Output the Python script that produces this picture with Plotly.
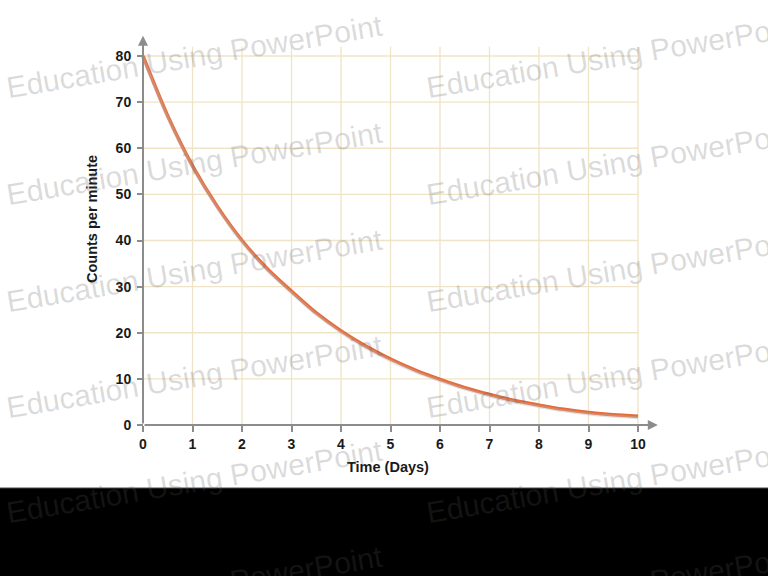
import plotly.graph_objects as go

# ---- data ----
time_days = [0, 0.5, 1, 1.5, 2, 2.5, 3, 3.5, 4, 4.5, 5, 5.5, 6, 6.5, 7, 7.5, 8, 8.5, 9, 9.5, 10]
counts = [80, 67, 56.2, 47.4, 40, 34.0, 29.0, 24.3, 20.4, 17.1, 14.3, 11.9, 9.9, 8.1, 6.6, 5.3, 4.3, 3.4, 2.7, 2.2, 1.9]
x_ticks = [0, 1, 2, 3, 4, 5, 6, 7, 8, 9, 10]
y_ticks = [0, 10, 20, 30, 40, 50, 60, 70, 80]
x_title = "Time (Days)"
y_title = "Counts per minute"
watermark = "Education Using PowerPoint"

# ---- layout geometry (pixels) ----
W, H = 768, 576
ML, MR, MT, MB = 128, 100, 30, 141
PW, PH = W - ML - MR, H - MT - MB
X0_PX, X10_PX = 143, 638
Y0_PX, Y80_PX = 425, 56
sx = (X10_PX - X0_PX) / 10.0
sy = (Y0_PX - Y80_PX) / 80.0
x_range = [-(X0_PX - ML) / sx, (W - MR - X0_PX) / sx]
y_range = [-(H - MB - Y0_PX) / sy, (Y0_PX - MT) / sy]
shadow_shift = 1.5 / sy


def pxx(px):
    return (px - ML) / PW


def pxy(py):
    return (H - MB - py) / PH


AX_COLOR = "#8c8c8c"
GRID_COLOR = "#efe4c6"
CURVE_COLOR = "#e76a38"
FONT = "Liberation Sans, Arial, sans-serif"

fig = go.Figure()

# soft shadow under the curve (same data, drawn on a slightly shifted overlay axis)
fig.add_trace(go.Scatter(
    x=time_days, y=counts, mode="lines", yaxis="y2",
    line=dict(color="rgba(185,185,185,0.4)", width=3, shape="spline", smoothing=0.8),
    hoverinfo="skip", showlegend=False))
fig.add_trace(go.Scatter(
    x=time_days, y=counts, mode="lines",
    line=dict(color=CURVE_COLOR, width=3.5, shape="spline", smoothing=0.8),
    showlegend=False))

shapes = []
# grid
for yv in y_ticks[1:]:
    shapes.append(dict(type="line", xref="x", yref="y", x0=x_ticks[0], x1=x_ticks[-1], y0=yv, y1=yv,
                       line=dict(color=GRID_COLOR, width=1.3), layer="below"))
for xv in x_ticks[1:]:
    shapes.append(dict(type="line", xref="x", yref="y", x0=xv, x1=xv, y0=0, y1=y_ticks[-1] + 2,
                       line=dict(color=GRID_COLOR, width=1.3), layer="below"))
# black band at bottom
shapes.append(dict(type="rect", xref="paper", yref="paper",
                   x0=pxx(-2), x1=pxx(W + 2), y0=pxy(488), y1=pxy(H + 2),
                   fillcolor="black", line=dict(color="#4a4a4a", width=1), layer="above"))

annotations = []
# axis lines with arrows
annotations.append(dict(x=0, y=y_ticks[-1] + 4.4, ax=0, ay=0, xref="x", yref="y", axref="x", ayref="y",
                        text="", showarrow=True, arrowhead=2, arrowsize=1, arrowwidth=2,
                        arrowcolor=AX_COLOR, standoff=0, startstandoff=0))
annotations.append(dict(x=x_ticks[-1] + 0.4, y=0, ax=0, ay=0, xref="x", yref="y", axref="x", ayref="y",
                        text="", showarrow=True, arrowhead=2, arrowsize=1, arrowwidth=2,
                        arrowcolor=AX_COLOR, standoff=0, startstandoff=0))
# axis titles
annotations.append(dict(x=pxx(388), y=pxy(467), xref="paper", yref="paper", text=x_title,
                        showarrow=False, xanchor="center", yanchor="middle",
                        font=dict(family=FONT, size=14.5, color="#1a1a1a", weight="bold")))
annotations.append(dict(x=pxx(92), y=pxy(219), xref="paper", yref="paper", text=y_title,
                        textangle=-90, showarrow=False, xanchor="center", yanchor="middle",
                        font=dict(family=FONT, size=14.5, color="#1a1a1a", weight="bold")))
# watermarks
for cx in [194, 614]:
    for cy in [56, 163, 270, 376, 481, 587]:
        annotations.append(dict(x=pxx(cx), y=pxy(cy), xref="paper", yref="paper", text=watermark,
                                textangle=-9.5, showarrow=False, xanchor="center", yanchor="middle",
                                font=dict(family=FONT, size=30, color="rgba(90,90,90,0.22)")))

tickfont = dict(family=FONT, size=14, color="#1a1a1a", weight="bold")
fig.update_layout(
    width=W, height=H,
    margin=dict(l=ML, r=MR, t=MT, b=MB, pad=0),
    paper_bgcolor="white", plot_bgcolor="white",
    showlegend=False,
    xaxis=dict(range=x_range, tickvals=x_ticks, ticktext=[str(v) for v in x_ticks],
               showgrid=False, zeroline=False, showline=False,
               ticks="outside", ticklen=6, tickwidth=1.5, tickcolor=AX_COLOR,
               tickfont=tickfont, anchor="free", position=pxy(Y0_PX), fixedrange=True),
    yaxis=dict(range=y_range, tickvals=y_ticks, ticktext=[str(v) for v in y_ticks],
               showgrid=False, zeroline=False, showline=False,
               ticks="outside", ticklen=6, tickwidth=1.5, tickcolor=AX_COLOR,
               ticklabelstandoff=3,
               tickfont=tickfont, anchor="free", position=pxx(X0_PX), fixedrange=True),
    yaxis2=dict(range=[y_range[0] + shadow_shift, y_range[1] + shadow_shift], overlaying="y",
                visible=False, fixedrange=True),
    shapes=shapes,
    annotations=annotations,
)

fig.write_html(
    "out.html",
    config={"displayModeBar": False},
    post_script="document.body.style.margin='0';document.documentElement.style.overflow='hidden';",
)
